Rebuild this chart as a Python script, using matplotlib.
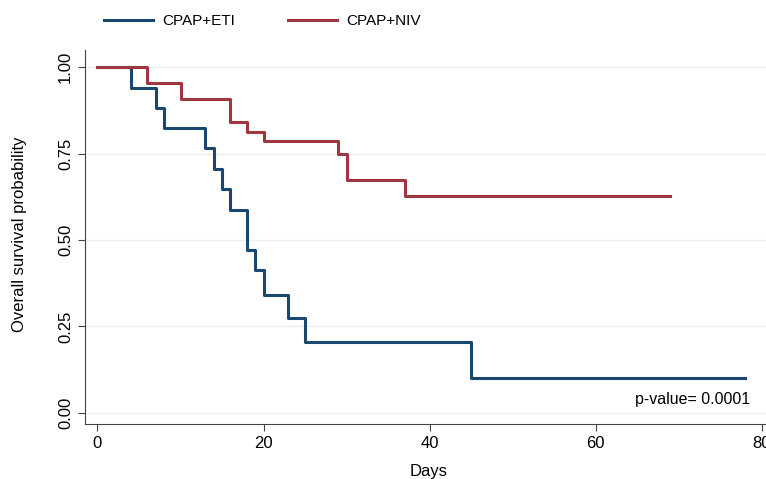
import matplotlib.pyplot as plt
import numpy as np

plt.rcParams['font.family'] = ['Liberation Sans', 'DejaVu Sans']

# Kaplan-Meier steps (time, survival after the step)
eti_days = [0, 4, 7, 8, 13, 14, 15, 16, 18, 19, 20, 23, 25, 45, 78]
eti_surv = [1.0, 0.941, 0.882, 0.824, 0.765, 0.706, 0.647, 0.588, 0.471, 0.412, 0.341, 0.273, 0.205, 0.102, 0.102]

niv_days = [0, 6, 10, 16, 18, 20, 29, 30, 37, 69]
niv_surv = [1.0, 0.955, 0.909, 0.841, 0.814, 0.788, 0.750, 0.675, 0.628, 0.628]

labels = ['CPAP+ETI', 'CPAP+NIV']
colors = ['#1a476f', '#a0363f']
yticks = [0.0, 0.25, 0.5, 0.75, 1.0]
xticks = [0, 20, 40, 60, 80]

fig = plt.figure(figsize=(7.66, 4.79), dpi=100)
ax = fig.add_axes([0.111, 0.115, 0.889, 0.78])

ax.step(eti_days, eti_surv, where='post', color=colors[0], lw=2.2, label=labels[0])
ax.step(niv_days, niv_surv, where='post', color=colors[1], lw=2.2, label=labels[1])

ax.set_xlim(-1.5, 80.5)
ax.set_ylim(-0.032, 1.049)
ax.set_yticks(yticks)
ax.set_yticklabels(['%.2f' % v for v in yticks], rotation=90, va='center')
ax.set_xticks(xticks)
ax.tick_params(labelsize=12, length=5, color='#444444')
ax.grid(axis='y', color='#eeeeee', lw=1)
ax.set_axisbelow(True)
for s in ['top', 'right']:
    ax.spines[s].set_visible(False)
for s in ['left', 'bottom']:
    ax.spines[s].set_color('#444444')

ax.set_xlabel('Days', fontsize=12)
ax.set_ylabel('Overall survival probability', fontsize=12)
ax.xaxis.set_label_coords(0.505, -0.107)
ax.yaxis.set_label_coords(-0.085, 0.508)
ax.text(78.6, 0.04, 'p-value= 0.0001', ha='right', va='center', fontsize=11.5)

fig.legend(loc='center left', bbox_to_anchor=(0.1358, 0.956), ncol=2, frameon=False,
           borderaxespad=0, borderpad=0, handlelength=3.2, handletextpad=0.6,
           columnspacing=3.5, fontsize=11)

fig.savefig('out.png', dpi=100)
